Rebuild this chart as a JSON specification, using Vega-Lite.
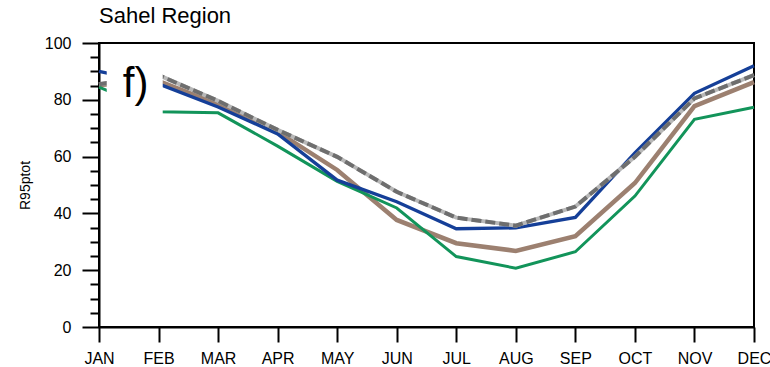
{
  "$schema": "https://vega.github.io/schema/vega-lite/v6.json",
  "width": 655,
  "height": 284,
  "autosize": {"type": "none"},
  "padding": {"left": 99, "top": 43, "right": 16, "bottom": 40},
  "background": "white",
  "config": {
    "view": {"stroke": "black", "strokeWidth": 2},
    "font": "Liberation Sans",
    "axis": {
      "grid": false,
      "domainColor": "black",
      "domainWidth": 2,
      "tickColor": "black",
      "tickWidth": 2,
      "labelColor": "black",
      "labelFont": "Liberation Sans",
      "titleFont": "Liberation Sans",
      "titleColor": "black"
    }
  },
  "title": {
    "text": "Sahel Region",
    "anchor": "start",
    "frame": "group",
    "font": "Liberation Sans",
    "fontSize": 22,
    "fontWeight": "normal",
    "color": "black",
    "baseline": "bottom",
    "offset": 12,
    "dy": 27
  },
  "datasets": {
    "r95": [
      {"month": 1, "series": "model_a", "value": 90.0},
      {"month": 2, "series": "model_a", "value": 85.6},
      {"month": 3, "series": "model_a", "value": 77.5},
      {"month": 4, "series": "model_a", "value": 68.0},
      {"month": 5, "series": "model_a", "value": 51.7},
      {"month": 6, "series": "model_a", "value": 44.1},
      {"month": 7, "series": "model_a", "value": 34.6},
      {"month": 8, "series": "model_a", "value": 34.9},
      {"month": 9, "series": "model_a", "value": 38.6},
      {"month": 10, "series": "model_a", "value": 61.3},
      {"month": 11, "series": "model_a", "value": 82.3},
      {"month": 12, "series": "model_a", "value": 92.0},
      {"month": 1, "series": "model_b", "value": 85.2},
      {"month": 2, "series": "model_b", "value": 86.6},
      {"month": 3, "series": "model_b", "value": 78.5},
      {"month": 4, "series": "model_b", "value": 68.7},
      {"month": 5, "series": "model_b", "value": 55.3},
      {"month": 6, "series": "model_b", "value": 37.7},
      {"month": 7, "series": "model_b", "value": 29.5},
      {"month": 8, "series": "model_b", "value": 26.8},
      {"month": 9, "series": "model_b", "value": 32.0},
      {"month": 10, "series": "model_b", "value": 50.7},
      {"month": 11, "series": "model_b", "value": 77.8},
      {"month": 12, "series": "model_b", "value": 86.2},
      {"month": 1, "series": "model_c", "value": 84.5},
      {"month": 2, "series": "model_c", "value": 75.8},
      {"month": 3, "series": "model_c", "value": 75.4},
      {"month": 4, "series": "model_c", "value": 63.7},
      {"month": 5, "series": "model_c", "value": 51.3},
      {"month": 6, "series": "model_c", "value": 41.9},
      {"month": 7, "series": "model_c", "value": 24.8},
      {"month": 8, "series": "model_c", "value": 20.7},
      {"month": 9, "series": "model_c", "value": 26.5},
      {"month": 10, "series": "model_c", "value": 46.1},
      {"month": 11, "series": "model_c", "value": 73.1},
      {"month": 12, "series": "model_c", "value": 77.4},
      {"month": 1, "series": "mean", "value": 85.5},
      {"month": 2, "series": "mean", "value": 88.7},
      {"month": 3, "series": "mean", "value": 79.6},
      {"month": 4, "series": "mean", "value": 69.4},
      {"month": 5, "series": "mean", "value": 59.9},
      {"month": 6, "series": "mean", "value": 47.6},
      {"month": 7, "series": "mean", "value": 38.5},
      {"month": 8, "series": "mean", "value": 35.7},
      {"month": 9, "series": "mean", "value": 42.4},
      {"month": 10, "series": "mean", "value": 59.9},
      {"month": 11, "series": "mean", "value": 80.5},
      {"month": 12, "series": "mean", "value": 88.7}
    ]
  },
  "layer": [
    {
      "data": {"name": "r95"},
      "encoding": {
        "x": {
          "field": "month",
          "type": "quantitative",
          "scale": {"domain": [1, 12], "nice": false, "zero": false},
          "axis": {
            "values": [1, 2, 3, 4, 5, 6, 7, 8, 9, 10, 11, 12],
            "labelExpr": "['JAN','FEB','MAR','APR','MAY','JUN','JUL','AUG','SEP','OCT','NOV','DEC'][datum.value - 1]",
            "tickSize": 15,
            "labelFontSize": 16,
            "labelPadding": 8,
            "labelFlush": false,
            "labelOverlap": false,
            "title": null
          }
        },
        "y": {
          "field": "value",
          "type": "quantitative",
          "scale": {"domain": [0, 100], "nice": false},
          "axis": {
            "orient": "left",
            "values": [0, 20, 40, 60, 80, 100],
            "tickSize": 17,
            "labelFontSize": 16,
            "labelPadding": 11,
            "labelFlush": false,
            "title": "R95ptot",
            "titleFontSize": 14,
            "titleFontWeight": "normal",
            "titlePadding": 12
          }
        }
      },
      "layer": [
        {
          "transform": [{"filter": "datum.series == 'model_b'"}],
          "mark": {"type": "line", "color": "#9c8070", "strokeWidth": 4.5}
        },
        {
          "transform": [{"filter": "datum.series == 'model_c'"}],
          "mark": {"type": "line", "color": "#12945a", "strokeWidth": 3}
        },
        {
          "transform": [{"filter": "datum.series == 'model_a'"}],
          "mark": {"type": "line", "color": "#153f98", "strokeWidth": 3.3}
        },
        {
          "transform": [{"filter": "datum.series == 'mean'"}],
          "mark": {"type": "line", "color": "#b8b8b8", "strokeWidth": 4}
        },
        {
          "transform": [{"filter": "datum.series == 'mean'"}],
          "mark": {"type": "line", "color": "#6e6e6e", "strokeWidth": 4, "strokeDash": [10, 4]}
        }
      ]
    },
    {
      "layer": [
        {
          "data": {"values": [{"x1": 1.13, "x2": 2.07, "y1": 70, "y2": 97}]},
          "mark": {"type": "rect", "color": "white"},
          "encoding": {
            "x": {
              "field": "x1",
              "type": "quantitative",
              "scale": {"domain": [1, 12], "nice": false, "zero": false},
              "axis": {
                "values": [1, 2, 3, 4, 5, 6, 7, 8, 9, 10, 11, 12],
                "labelExpr": "['JAN','FEB','MAR','APR','MAY','JUN','JUL','AUG','SEP','OCT','NOV','DEC'][datum.value - 1]",
                "tickSize": 15,
                "labelFontSize": 16,
                "labelPadding": 8,
                "labelFlush": false,
                "labelOverlap": false,
                "title": null
              }
            },
            "x2": {"field": "x2"},
            "y": {
              "field": "y1",
              "type": "quantitative",
              "scale": {"domain": [0, 100], "nice": false},
              "axis": {
                "orient": "left",
                "values": [5, 10, 15, 25, 30, 35, 45, 50, 55, 65, 70, 75, 85, 90, 95],
                "tickSize": 9,
                "labels": false,
                "domain": false,
                "title": null
              }
            },
            "y2": {"field": "y2"}
          }
        },
        {
          "data": {"values": [{"x": 1.4, "y": 81, "label": "f)"}]},
          "mark": {"type": "text", "align": "left", "baseline": "alphabetic", "font": "Liberation Sans", "fontSize": 42, "color": "black"},
          "encoding": {
            "x": {
              "field": "x",
              "type": "quantitative",
              "axis": {
                "values": [1, 2, 3, 4, 5, 6, 7, 8, 9, 10, 11, 12],
                "labelExpr": "['JAN','FEB','MAR','APR','MAY','JUN','JUL','AUG','SEP','OCT','NOV','DEC'][datum.value - 1]",
                "tickSize": 15,
                "labelFontSize": 16,
                "labelPadding": 8,
                "labelFlush": false,
                "labelOverlap": false,
                "title": null
              }
            },
            "y": {
              "field": "y",
              "type": "quantitative",
              "axis": {
                "orient": "left",
                "values": [5, 10, 15, 25, 30, 35, 45, 50, 55, 65, 70, 75, 85, 90, 95],
                "tickSize": 9,
                "labels": false,
                "domain": false,
                "title": null
              }
            },
            "text": {"field": "label"}
          }
        }
      ]
    }
  ],
  "resolve": {"axis": {"y": "independent"}}
}
